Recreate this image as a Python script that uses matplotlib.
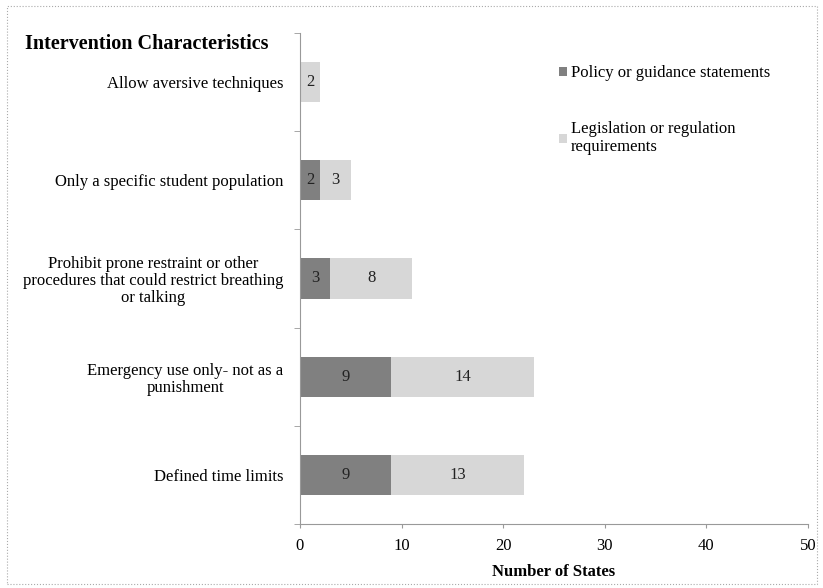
import matplotlib
matplotlib.use("Agg")
import matplotlib.pyplot as plt
from matplotlib.patches import Rectangle, Patch

categories = [
    "Allow aversive techniques",
    "Only a specific student population",
    "Prohibit prone restraint or other\nprocedures that could restrict breathing\nor talking",
    "Emergency use only- not as a\npunishment",
    "Defined time limits",
]
policy = [0, 2, 3, 9, 9]
legislation = [2, 3, 8, 14, 13]
series_names = ["Policy or guidance statements", "Legislation or regulation\nrequirements"]
xticks = [0, 10, 20, 30, 40, 50]

plt.rcParams['font.family'] = ['Liberation Serif', 'DejaVu Serif']
FS = 12

fig = plt.figure(figsize=(8.23, 5.88), dpi=100)
ax = fig.add_axes([300/823, 1-524/588, 508/823, (524-33)/588])

dark = '#808080'
light = '#d7d7d7'
n = len(categories)
ypos = list(range(n))
ax.barh(ypos, policy, height=0.41, color=dark, edgecolor='none')
ax.barh(ypos, legislation, left=policy, height=0.41, color=light, edgecolor='none')

for i in range(n):
    if policy[i] > 0:
        ax.text(policy[i]/2, ypos[i], str(policy[i]), ha='center', va='center', fontsize=FS, color='#222222')
    if legislation[i] > 0:
        ax.text(policy[i] + legislation[i]/2, ypos[i], str(legislation[i]), ha='center', va='center', fontsize=FS, color='#222222')

ax.set_ylim(n-0.5, -0.5)
ax.set_xlim(0, 50)
ax.set_yticks(ypos)
ax.set_yticklabels(categories, fontsize=FS, multialignment='center', linespacing=1.1)
ax.tick_params(axis='y', length=0, pad=12)
ax.set_yticks([i-0.5 for i in range(n+1)], minor=True)
ax.tick_params(axis='y', which='minor', length=4, color='#999999', direction='out')
ax.set_xticks(xticks)
ax.set_xticklabels([str(t) for t in xticks], fontsize=FS)
ax.tick_params(axis='x', length=3, color='#999999', direction='out', pad=7)
ax.set_xlabel("Number of States", fontsize=FS, fontweight='bold', labelpad=7)

for s in ['top', 'right']:
    ax.spines[s].set_visible(False)
for s in ['left', 'bottom']:
    ax.spines[s].set_color('#999999')
    ax.spines[s].set_linewidth(0.8)

fig.text(25/823, 1-44/588, "Intervention Characteristics", fontsize=14.5, fontweight='bold', ha='left', va='center')

handles = [Patch(facecolor=dark), Patch(facecolor=light)]
fig.legend(handles, series_names, loc='upper left', bbox_to_anchor=(544/823, 1-50/588),
           frameon=False, fontsize=FS, handlelength=0.45, handleheight=0.45,
           handletextpad=0.25, labelspacing=2.4)

fig.patches.append(Rectangle((7/823, 4/588), 810/823, 578/588, transform=fig.transFigure,
                             fill=False, edgecolor='#aaaaaa', linestyle=':', linewidth=0.8))

fig.savefig("out.png", dpi=100)
